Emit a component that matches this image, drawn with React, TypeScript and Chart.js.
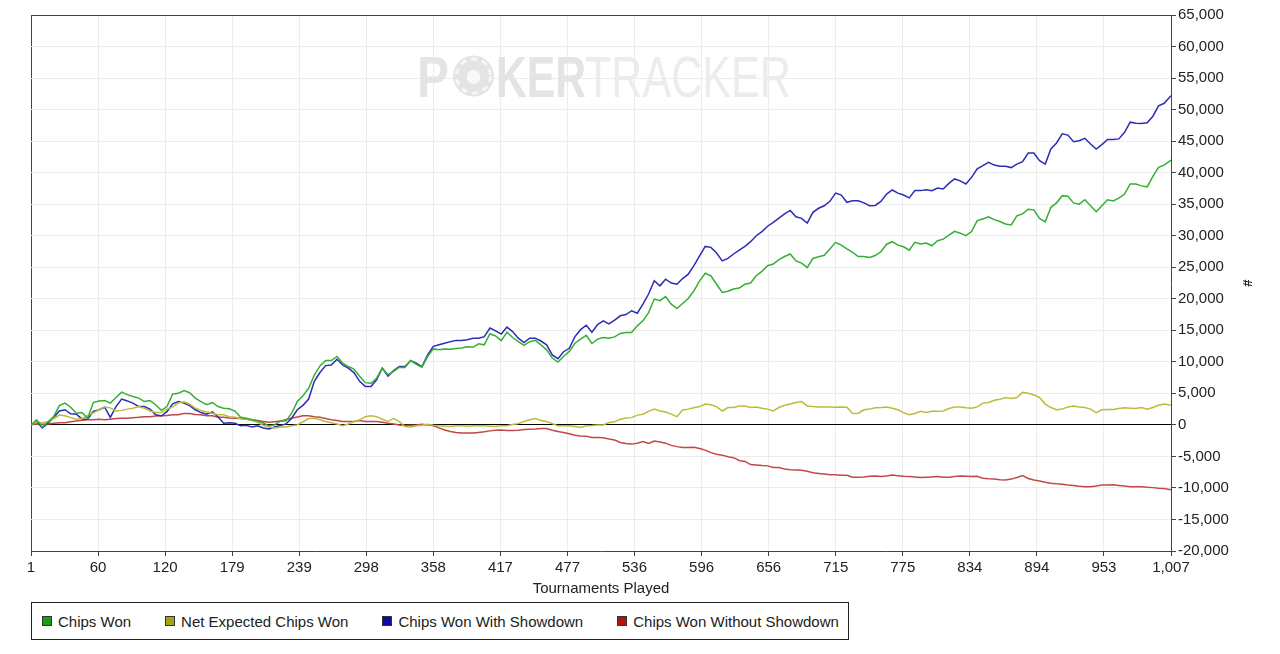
import { useEffect, useRef } from "react"
import { Chart, registerables } from "chart.js"

Chart.register(...registerables)

// tournament number for every sampled point (every 5th tournament)
const tournaments = [
  1, 6, 11, 16, 21, 26, 31, 36, 41, 46, 51, 56, 61, 66, 71, 76, 81, 86, 91, 96,
  101, 106, 111, 116, 121, 126, 131, 136, 141, 146, 151, 156, 161, 166, 171, 176, 181, 186, 191, 196,
  201, 206, 211, 216, 221, 226, 231, 236, 241, 246, 251, 256, 261, 266, 271, 276, 281, 286, 291, 296,
  301, 306, 311, 316, 321, 326, 331, 336, 341, 346, 351, 356, 361, 366, 371, 376, 381, 386, 391, 396,
  401, 406, 411, 416, 421, 426, 431, 436, 441, 446, 451, 456, 461, 466, 471, 476, 481, 486, 491, 496,
  501, 506, 511, 516, 521, 526, 531, 536, 541, 546, 551, 556, 561, 566, 571, 576, 581, 586, 591, 596,
  601, 606, 611, 616, 621, 626, 631, 636, 641, 646, 651, 656, 661, 666, 671, 676, 681, 686, 691, 696,
  701, 706, 711, 716, 721, 726, 731, 736, 741, 746, 751, 756, 761, 766, 771, 776, 781, 786, 791, 796,
  801, 806, 811, 816, 821, 826, 831, 836, 841, 846, 851, 856, 861, 866, 871, 876, 881, 886, 891, 896,
  901, 906, 911, 916, 921, 926, 931, 936, 941, 946, 951, 956, 961, 966, 971, 976, 981, 986, 991, 996,
  1001, 1007,
]

const chipsWon = [
  0, 800, -350, 500, 1300, 3050, 3450, 2800, 1850, 1950, 1050, 3550, 3800, 3850, 3450, 4350, 5200, 4800, 4500, 4250,
  3700, 3850, 3200, 2300, 2900, 4900, 5000, 5450, 5100, 4250, 3700, 3200, 3550, 2900, 2650, 2550, 2200, 1200, 1050, 800,
  600, 300, -150, 0, 600, 600, 1850, 3700, 4600, 5800, 7900, 9350, 10200, 10200, 10850, 9800, 9250, 8850, 7700, 6700,
  6600, 7400, 9000, 7950, 8500, 9150, 9100, 10200, 9600, 9150, 10850, 12050, 11900, 12050, 12000, 12100, 12200, 12400, 12300, 12850,
  12700, 14450, 14100, 13350, 14700, 13850, 13200, 12600, 13200, 13400, 12700, 11900, 10600, 9950, 10850, 11650, 12950, 13600, 14200, 12900,
  13600, 13850, 13750, 13950, 14500, 14650, 14650, 15700, 16500, 17800, 19950, 19700, 20350, 19150, 18450, 19250, 20050, 21250, 22850, 24050,
  23650, 22300, 21000, 21200, 21550, 21700, 22300, 22500, 23650, 24350, 25250, 25500, 26200, 26700, 27100, 26000, 25650, 24950, 26400, 26650,
  26900, 27900, 28950, 28500, 27900, 27350, 26700, 26700, 26550, 26850, 27450, 28650, 29050, 28500, 28250, 27700, 28950, 28700, 28850, 28400,
  29200, 29450, 30100, 30700, 30400, 30000, 30650, 32400, 32650, 33000, 32550, 32250, 31850, 31700, 33150, 33450, 34200, 34100, 32750, 32200,
  34500, 35200, 36350, 36250, 35200, 35000, 35700, 34750, 33800, 34750, 35700, 35500, 35950, 36600, 38200, 38200, 37900, 37750, 39400, 40850,
  41200, 42000,
]

const netExpectedChipsWon = [
  0, 500, 300, 500, 1000, 1550, 1450, 1150, 900, 1000, 1450, 1900, 2400, 2850, 2700, 2200, 2300, 2500, 2650, 2900,
  2650, 2200, 1950, 1950, 2500, 2850, 3450, 3650, 3300, 2650, 2300, 2050, 1850, 1600, 1600, 1300, 1200, 1000, 900, 700,
  400, -50, -350, -500, -350, -350, -150, 0, 500, 1000, 1050, 800, 530, 350, 150, -150, 150, 530, 800, 1300,
  1450, 1300, 900, 530, 1050, 530, -250, -350, -150, -50, 100, -50, -150, -200, -250, -150, -150, -200, -150, -150,
  -150, -200, -250, -150, -150, 50, 200, 530, 800, 1000, 700, 530, 200, -150, -150, -150, -250, -400, -150, -100,
  0, 0, 370, 480, 900, 1100, 1150, 1550, 1700, 2150, 2500, 2200, 2050, 1700, 1300, 2350, 2500, 2700, 2900, 3300,
  3200, 2900, 2200, 2750, 2750, 3000, 3000, 2750, 2850, 2650, 2500, 2200, 2750, 3100, 3300, 3550, 3700, 3000, 2900, 2850,
  2850, 2850, 2800, 2850, 2800, 1800, 1850, 2400, 2500, 2700, 2750, 2850, 2650, 2400, 1950, 1600, 1800, 2150, 1950, 2150,
  2150, 2200, 2600, 2850, 2850, 2700, 2650, 2850, 3450, 3550, 3900, 4050, 4350, 4200, 4350, 5150, 5000, 4750, 4350, 3300,
  2750, 2400, 2500, 2850, 3000, 2850, 2750, 2500, 1950, 2400, 2450, 2450, 2600, 2700, 2650, 2600, 2750, 2500, 2750, 3100,
  3300, 3100,
]

const chipsWonWithShowdown = [
  0, 500, -500, 250, 1150, 2200, 2400, 1750, 1700, 950, 900, 2150, 2400, 2800, 1200, 2900, 4100, 3800, 3450, 2900,
  2900, 2500, 1600, 1400, 2100, 3350, 3700, 3450, 3050, 2400, 1950, 1700, 2050, 1300, 250, 350, 250, -150, -50, -350,
  -150, -500, -650, -350, -100, 150, 1050, 2400, 3100, 4100, 6900, 8300, 9400, 9500, 10400, 9500, 9000, 8300, 6900, 6100,
  6100, 7150, 9000, 7750, 8600, 9250, 9250, 10200, 9800, 9250, 11100, 12450, 12700, 12950, 13200, 13400, 13400, 13500, 13750, 13750,
  14000, 15350, 14900, 14400, 15500, 14800, 13750, 13050, 13750, 13750, 13300, 12700, 11100, 10500, 11600, 12150, 14000, 15100, 15800, 14700,
  15900, 16500, 16000, 16600, 17300, 17500, 18100, 17700, 19150, 20750, 22850, 22050, 23100, 22500, 22300, 23200, 23900, 25250, 26800, 28300,
  28150, 27250, 26000, 26400, 27100, 27700, 28300, 29050, 30000, 30650, 31500, 32100, 32800, 33450, 34000, 33000, 32750, 32000, 33700, 34350,
  34750, 35450, 36750, 36450, 35300, 35550, 35550, 35200, 34750, 34800, 35450, 36600, 37250, 36750, 36450, 36000, 37150, 37150, 37300, 37150,
  37550, 37400, 38300, 39000, 38700, 38200, 39250, 40600, 41100, 41650, 41200, 41000, 41000, 40800, 41350, 41750, 43100, 43100, 41900, 41350,
  43750, 44700, 46150, 45950, 44900, 45050, 45450, 44550, 43750, 44450, 45250, 45250, 45350, 46400, 48000, 47850, 47800, 47900, 48950, 50600,
  51000, 52200,
]

const chipsWonWithoutShowdown = [
  0, 150, 100, 150, 250, 350, 350, 500, 600, 750, 800, 800, 900, 800, 900, 1000, 1050, 1050, 1150, 1200,
  1300, 1300, 1400, 1450, 1500, 1600, 1600, 1800, 1800, 1650, 1600, 1450, 1450, 1200, 1200, 1100, 1050, 1000, 900, 800,
  700, 550, 400, 500, 600, 850, 1050, 1250, 1450, 1450, 1300, 1200, 1000, 800, 700, 530, 530, 530, 700, 530,
  530, 530, 420, 260, 150, 0, -100, -50, 0, 100, 0, -150, -480, -800, -1050, -1200, -1300, -1300, -1300, -1200,
  -1100, -950, -850, -800, -900, -900, -850, -750, -700, -650, -580, -580, -850, -1050, -1200, -1400, -1650, -1750, -1800, -2000,
  -2000, -2050, -2250, -2400, -2800, -2950, -3050, -2900, -2650, -2950, -2550, -2700, -2900, -3250, -3450, -3600, -3600, -3550, -3750, -4000,
  -4400, -4650, -4800, -5050, -5200, -5650, -5800, -6300, -6350, -6450, -6500, -6750, -6750, -7000, -7100, -7150, -7200, -7350, -7600, -7700,
  -7800, -7900, -7900, -8000, -8000, -8300, -8300, -8250, -8150, -8100, -8200, -8100, -7950, -8050, -8150, -8200, -8250, -8350, -8300, -8250,
  -8200, -8300, -8300, -8200, -8100, -8150, -8200, -8150, -8450, -8550, -8600, -8700, -8750, -8600, -8350, -8050, -8500, -8750, -8900, -9100,
  -9250, -9350, -9400, -9550, -9600, -9750, -9800, -9800, -9700, -9550, -9550, -9500, -9600, -9700, -9800, -9800, -9800, -9900, -9950, -10050,
  -10100, -10300,
]

const xTickLabels = [1, 60, 120, 179, 239, 298, 358, 417, 477, 536, 596, 656, 715, 775, 834, 894, 953, 1007]

const seriesNames = ["Chips Won", "Net Expected Chips Won", "Chips Won With Showdown", "Chips Won Without Showdown"]
const seriesValues = [chipsWon, netExpectedChipsWon, chipsWonWithShowdown, chipsWonWithoutShowdown]
const lineColors = ["#33b033", "#bcbc3c", "#2c2cb4", "#c24848"]
const swatchColors = ["#13a013", "#a5a50c", "#0c0ca0", "#b01414"]

const FONT = '"Liberation Sans", Arial, sans-serif'
const fmt = (v: number) => v.toLocaleString("en-US")

// faint PokerTracker logo behind the lines
const watermark = {
  id: "watermark",
  beforeDatasetsDraw(chart: Chart) {
    const ctx = chart.ctx
    const base = 97
    const part = (text: string, x: number, w: number, weight: string, color: string) => {
      ctx.save()
      ctx.font = `${weight} 58px ${FONT}`
      const m = ctx.measureText(text).width
      ctx.translate(x, base)
      ctx.scale(w / m, 1)
      ctx.fillStyle = color
      ctx.textBaseline = "alphabetic"
      ctx.fillText(text, 0, 0)
      ctx.restore()
    }
    part("P", 417, 32, "bold", "#e4e4e4")
    // chip
    ctx.save()
    ctx.fillStyle = "#e4e4e4"
    ctx.beginPath()
    ctx.arc(473.5, 76, 20.5, 0, Math.PI * 2)
    ctx.fill()
    ctx.strokeStyle = "#f6f6f6"
    ctx.lineWidth = 3
    ctx.setLineDash([6, 5])
    ctx.beginPath()
    ctx.arc(473.5, 76, 17, 0, Math.PI * 2)
    ctx.stroke()
    ctx.setLineDash([])
    ctx.fillStyle = "#f8f8f8"
    ctx.beginPath()
    ctx.arc(473.5, 77, 7, 0, Math.PI * 2)
    ctx.fill()
    ctx.restore()
    part("KER", 496, 90, "bold", "#e4e4e4")
    part("TRACKER", 585, 206, "normal", "#ececec")
  },
}

export default function App() {
  const canvasRef = useRef<HTMLCanvasElement>(null)
  const chartRef = useRef<Chart | null>(null)

  useEffect(() => {
    document.body.style.margin = "0"
    if (!canvasRef.current) return
    if (chartRef.current) chartRef.current.destroy()

    Chart.defaults.font.family = FONT
    Chart.defaults.font.size = 15
    Chart.defaults.color = "#222"

    chartRef.current = new Chart(canvasRef.current, {
      type: "line",
      data: {
        datasets: seriesNames.map((name, i) => ({
          label: name,
          data: tournaments.map((t, j) => ({ x: t, y: seriesValues[i][j] })),
          borderColor: lineColors[i],
          borderWidth: 1.5,
          pointRadius: 0,
          tension: 0,
          fill: false,
        })),
      },
      options: {
        responsive: false,
        animation: false,
        layout: { padding: { left: 31, top: 15, right: 0, bottom: 0 } },
        plugins: {
          legend: { display: false },
          tooltip: { enabled: false },
        },
        scales: {
          x: {
            type: "linear",
            min: 1,
            max: 1007,
            afterBuildTicks: (scale: any) => {
              scale.ticks = xTickLabels.map((_, i) => ({ value: 1 + (i * 1006) / (xTickLabels.length - 1) }))
            },
            afterFit: (scale: any) => {
              scale.height = 49
            },
            ticks: {
              autoSkip: false,
              maxRotation: 0,
              padding: 3,
              color: "#222",
              callback: (_v: any, i: number) => fmt(xTickLabels[i]),
            },
            grid: {
              color: (c: any) => (c.index === 0 ? "#444" : "#ececec"),
              tickColor: "#444",
              tickLength: 5,
            },
            border: { color: "#444" },
            title: {
              display: true,
              text: "Tournaments Played",
              color: "#222",
              padding: { top: 0, bottom: 2 },
            },
          },
          y: {
            position: "right",
            min: -20000,
            max: 65000,
            afterFit: (scale: any) => {
              scale.width = 109
            },
            ticks: {
              stepSize: 5000,
              padding: 2,
              color: "#222",
              callback: (v: any) => fmt(Number(v)),
            },
            grid: {
              color: (c: any) =>
                c.tick.value === 0 ? "#000" : c.tick.value === 65000 ? "#444" : "#ececec",
              tickColor: "#444",
              tickLength: 5,
            },
            border: { color: "#444" },
            title: {
              display: true,
              text: "#",
              color: "#222",
              font: { size: 13, weight: "bold" },
              padding: { top: 26, bottom: 0 },
            },
          },
        },
      },
      plugins: [watermark],
    })

    return () => {
      if (chartRef.current) {
        chartRef.current.destroy()
        chartRef.current = null
      }
    }
  }, [])

  return (
    <div style={{ position: "relative", width: 1280, height: 654, background: "#fff", fontFamily: FONT }}>
      <canvas ref={canvasRef} width={1280} height={600} style={{ position: "absolute", left: 0, top: 0 }} />
      <div
        style={{
          position: "absolute",
          left: 31,
          top: 602,
          width: 818,
          height: 38,
          boxSizing: "border-box",
          border: "1px solid #222",
          display: "flex",
          alignItems: "center",
          paddingLeft: 10,
          fontSize: 15,
          color: "#222",
          whiteSpace: "nowrap",
        }}
      >
        {seriesNames.map((name, i) => (
          <div key={name} style={{ display: "flex", alignItems: "center", marginRight: 34 }}>
            <span
              style={{
                display: "inline-block",
                width: 10,
                height: 10,
                boxSizing: "border-box",
                background: swatchColors[i],
                border: "1px solid #333",
                marginRight: 6,
              }}
            />
            <span>{name}</span>
          </div>
        ))}
      </div>
    </div>
  )
}
